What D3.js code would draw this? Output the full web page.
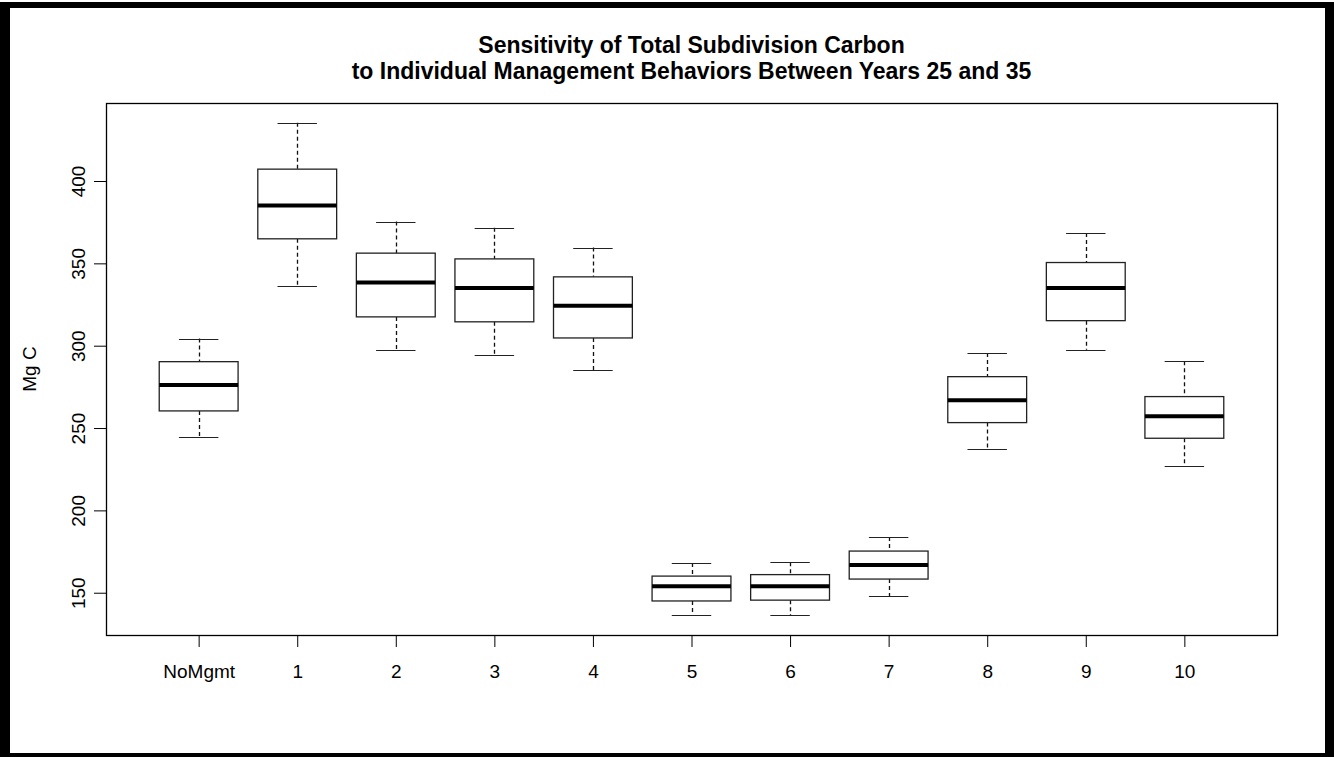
<!DOCTYPE html>
<html>
<head>
<meta charset="utf-8">
<script src="https://cdn.jsdelivr.net/npm/d3@7"></script>
<style>
  html, body { margin: 0; padding: 0; background: #fff; }
  svg { display: block; }
  text { font-family: "Liberation Sans", Arial, Helvetica, sans-serif; fill: #000; }
</style>
</head>
<body>
<div id="chart"></div>
<script>
// Box summaries (Mg C)
const categories = ["NoMgmt", "1", "2", "3", "4", "5", "6", "7", "8", "9", "10"];
const whiskerLow = [244.4, 336.5, 297.4, 294.4, 285.3, 136.3, 136.5, 148.0, 237.1, 297.6, 227.2];
const q1 = [260.4, 364.9, 317.5, 314.5, 304.7, 145.0, 145.5, 158.3, 253.3, 315.2, 243.8];
const median = [276.2, 385.1, 338.3, 335.1, 324.2, 153.9, 154.0, 166.8, 266.9, 335.1, 257.2];
const q3 = [290.3, 407.2, 356.2, 352.7, 341.8, 160.1, 161.0, 175.3, 281.2, 350.5, 269.1];
const whiskerHigh = [304.3, 435.4, 375.4, 371.6, 359.6, 168.0, 168.5, 183.8, 295.6, 368.5, 290.6];
const yTicks = [150, 200, 250, 300, 350, 400];
const titleLines = [
  "Sensitivity of Total Subdivision Carbon",
  "to Individual Management Behaviors Between Years 25 and 35"
];

(function () {
  const W = 1334, H = 757;
  const plot = { left: 106, right: 1277, top: 103, bottom: 635 };

  const data = categories.map((c, i) => ({
    name: c,
    pos: i + 1,
    lo: whiskerLow[i],
    q1: q1[i],
    med: median[i],
    q3: q3[i],
    hi: whiskerHigh[i]
  }));

  // R style: extend ranges by 4%
  const n = data.length;
  const xPad = 0.04 * n;
  const x = d3.scaleLinear()
    .domain([0.5 - xPad, n + 0.5 + xPad])
    .range([plot.left, plot.right]);

  const yMin = d3.min(whiskerLow), yMax = d3.max(whiskerHigh);
  const yPad = 0.04 * (yMax - yMin);
  const y = d3.scaleLinear()
    .domain([yMin - yPad, yMax + yPad])
    .range([plot.bottom, plot.top]);

  const svg = d3.select("#chart").append("svg")
    .attr("width", W)
    .attr("height", H);

  // outer frame
  svg.append("rect").attr("x", 0).attr("y", 2).attr("width", W).attr("height", H - 2).attr("fill", "#000");
  svg.append("rect").attr("x", 10).attr("y", 8).attr("width", 1315).attr("height", 745).attr("fill", "#fff");

  // title
  svg.append("g").selectAll("text")
    .data(titleLines)
    .enter()
    .append("text")
    .attr("x", (plot.left + plot.right) / 2)
    .attr("y", (d, i) => 53 + i * 26)
    .attr("text-anchor", "middle")
    .attr("font-size", "23px")
    .attr("font-weight", "bold")
    .text((d) => d);

  // Axes
  const yAxis = svg.append("g")
    .attr("transform", `translate(${plot.left},0)`)
    .call(d3.axisLeft(y).tickValues(yTicks).tickSize(12).tickSizeOuter(0).tickPadding(0));
  yAxis.select(".domain").remove();
  yAxis.selectAll(".tick line").attr("stroke", "#000").attr("stroke-width", 1);
  yAxis.selectAll(".tick text")
    .attr("font-size", "19px")
    .attr("x", 0)
    .attr("dy", null)
    .attr("text-anchor", "middle")
    .attr("transform", (d) => `translate(-26,0) rotate(-90)`)
    .attr("y", 0)
    .attr("dominant-baseline", "middle");

  const xAxis = svg.append("g")
    .attr("transform", `translate(0,${plot.bottom})`)
    .call(d3.axisBottom(x).tickValues(data.map((d) => d.pos))
      .tickFormat((d) => categories[d - 1]).tickSize(12).tickPadding(18));
  xAxis.select(".domain").remove();
  xAxis.selectAll(".tick line").attr("stroke", "#000").attr("stroke-width", 1);
  xAxis.selectAll(".tick text").attr("font-size", "19px").attr("dy", "0.71em");

  // plot frame
  svg.append("rect")
    .attr("x", plot.left + 0.5)
    .attr("y", plot.top + 0.5)
    .attr("width", plot.right - plot.left)
    .attr("height", plot.bottom - plot.top)
    .attr("fill", "none")
    .attr("stroke", "#000")
    .attr("stroke-width", 1.3);

  // axis label
  svg.append("text")
    .attr("transform", `translate(36,${(plot.top + plot.bottom) / 2}) rotate(-90)`)
    .attr("text-anchor", "middle")
    .attr("font-size", "19px")
    .text("Mg C");

  // boxes
  const boxW = 0.8;
  const capW = 0.4;
  const boxes = svg.append("g").selectAll("g.box")
    .data(data)
    .enter()
    .append("g")
    .attr("class", "box");

  // dashed whiskers
  boxes.append("line")
    .attr("x1", (d) => Math.round(x(d.pos)) + 0.5)
    .attr("x2", (d) => Math.round(x(d.pos)) + 0.5)
    .attr("y1", (d) => y(d.hi))
    .attr("y2", (d) => y(d.q3))
    .attr("stroke", "#111")
    .attr("stroke-width", 1.3)
    .attr("stroke-dasharray", "4,3");
  boxes.append("line")
    .attr("x1", (d) => Math.round(x(d.pos)) + 0.5)
    .attr("x2", (d) => Math.round(x(d.pos)) + 0.5)
    .attr("y1", (d) => y(d.q1))
    .attr("y2", (d) => y(d.lo))
    .attr("stroke", "#111")
    .attr("stroke-width", 1.3)
    .attr("stroke-dasharray", "4,3");

  // caps
  ["hi", "lo"].forEach((k) => {
    boxes.append("line")
      .attr("x1", (d) => x(d.pos - capW / 2))
      .attr("x2", (d) => x(d.pos + capW / 2))
      .attr("y1", (d) => Math.round(y(d[k])) + 0.5)
      .attr("y2", (d) => Math.round(y(d[k])) + 0.5)
      .attr("stroke", "#222")
      .attr("stroke-width", 1.2);
  });

  boxes.append("rect")
    .attr("x", (d) => x(d.pos - boxW / 2))
    .attr("width", (d) => x(d.pos + boxW / 2) - x(d.pos - boxW / 2))
    .attr("y", (d) => y(d.q3))
    .attr("height", (d) => y(d.q1) - y(d.q3))
    .attr("fill", "#fff")
    .attr("stroke", "#222")
    .attr("stroke-width", 1.3);

  boxes.append("line")
    .attr("x1", (d) => x(d.pos - boxW / 2))
    .attr("x2", (d) => x(d.pos + boxW / 2))
    .attr("y1", (d) => y(d.med))
    .attr("y2", (d) => y(d.med))
    .attr("stroke", "#000")
    .attr("stroke-width", 4);
})();
</script>
</body>
</html>
